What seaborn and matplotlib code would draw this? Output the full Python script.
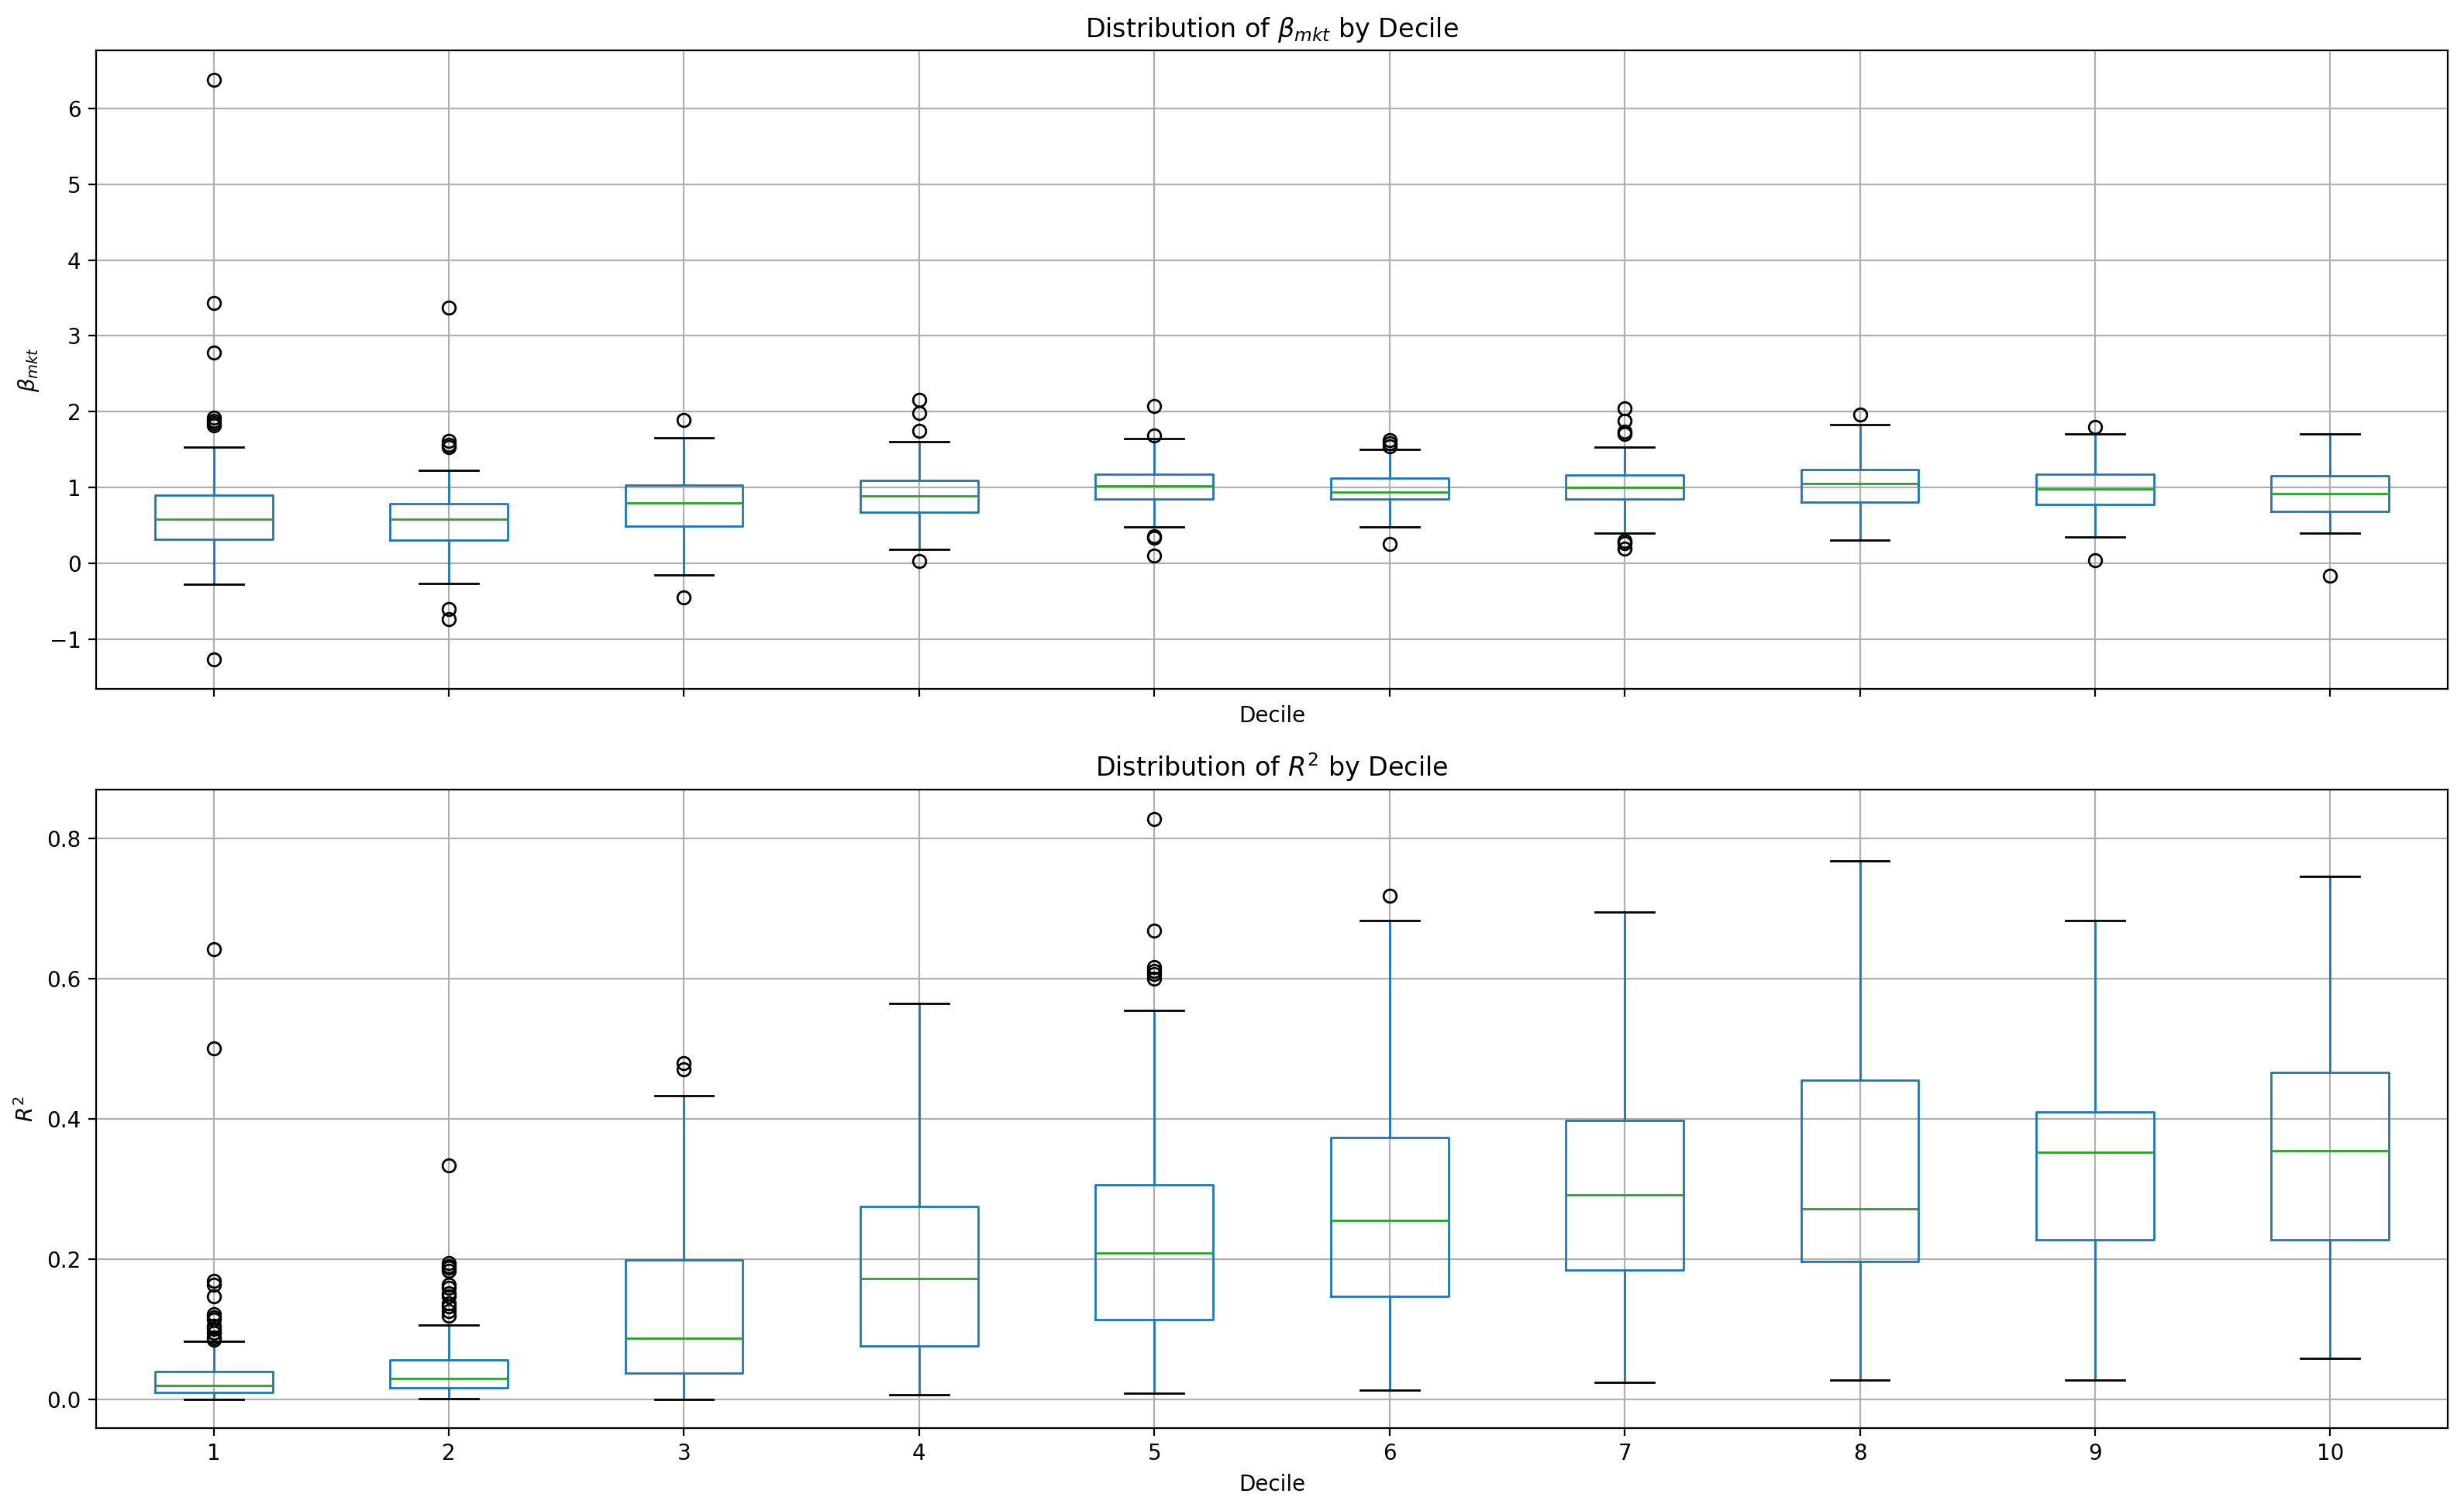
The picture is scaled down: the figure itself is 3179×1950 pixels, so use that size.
import matplotlib
matplotlib.use("Agg")
import matplotlib.pyplot as plt
import seaborn as sns

# plain matplotlib look, colours taken from seaborn's tab10 palette
sns.reset_defaults()
pal = sns.color_palette("tab10")
box_color = pal[0]
median_color = pal[2]

deciles = [1, 2, 3, 4, 5, 6, 7, 8, 9, 10]

# ---- beta_mkt per decile ----
beta_q1 = [0.319, 0.308, 0.487, 0.678, 0.843, 0.851, 0.851, 0.804, 0.776, 0.689]
beta_med = [0.577, 0.577, 0.798, 0.888, 1.022, 0.938, 1.000, 1.056, 0.977, 0.924]
beta_q3 = [0.894, 0.787, 1.028, 1.095, 1.174, 1.123, 1.162, 1.235, 1.174, 1.151]
beta_lo = [-0.280, -0.269, -0.157, 0.179, 0.476, 0.476, 0.403, 0.302, 0.342, 0.403]
beta_hi = [1.537, 1.224, 1.655, 1.605, 1.650, 1.498, 1.537, 1.832, 1.705, 1.705]
beta_fliers = [
    [6.38, 3.43, 2.78, 1.92, 1.88, 1.85, 1.82, -1.27],
    [3.375, 1.61, 1.565, 1.53, -0.605, -0.739],
    [1.89, -0.454],
    [2.157, 1.978, 1.745, 0.034],
    [2.07, 1.683, 0.358, 0.336, 0.106],
    [1.62, 1.58, 1.54, 0.252],
    [2.04, 1.88, 1.74, 1.71, 0.30, 0.27, 0.19],
    [1.966],
    [1.798, 0.045],
    [-0.168],
]

# ---- R^2 per decile ----
r2_q1 = [0.011, 0.0171, 0.0376, 0.0772, 0.1148, 0.1476, 0.185, 0.1974, 0.2282, 0.2282]
r2_med = [0.0205, 0.0307, 0.088, 0.173, 0.2097, 0.2555, 0.292, 0.2726, 0.3532, 0.3553]
r2_q3 = [0.0403, 0.0567, 0.1995, 0.276, 0.3067, 0.3737, 0.398, 0.4557, 0.4106, 0.4666]
r2_lo = [0.0, 0.0014, 0.0007, 0.0075, 0.0096, 0.0143, 0.0253, 0.028, 0.028, 0.0594]
r2_hi = [0.0833, 0.1066, 0.434, 0.565, 0.555, 0.683, 0.696, 0.768, 0.683, 0.746]
r2_fliers = [
    [0.642, 0.501, 0.170, 0.164, 0.148, 0.122, 0.118, 0.114, 0.106, 0.101, 0.095, 0.089, 0.086],
    [0.334, 0.195, 0.191, 0.188, 0.184, 0.164, 0.160, 0.152, 0.147, 0.138, 0.133, 0.126, 0.120],
    [0.480, 0.471],
    [],
    [0.828, 0.669, 0.617, 0.611, 0.607, 0.601],
    [0.719],
    [],
    [],
    [],
    [],
]


def make_stats(q1, med, q3, lo, hi, fliers):
    stats = []
    for i in range(len(q1)):
        stats.append({"q1": q1[i], "med": med[i], "q3": q3[i],
                      "whislo": lo[i], "whishi": hi[i], "fliers": fliers[i]})
    return stats


fig, (ax1, ax2) = plt.subplots(2, 1, figsize=(15.895, 9.75), dpi=200, sharex=True)
fig.subplots_adjust(left=0.039, right=0.9934, top=0.9667, bottom=0.0549, hspace=0.158)

styles = dict(
    boxprops=dict(color=box_color),
    whiskerprops=dict(color=box_color),
    medianprops=dict(color=median_color),
    capprops=dict(color="black"),
    flierprops=dict(marker="o", markerfacecolor="none", markeredgecolor="black"),
)

ax1.bxp(make_stats(beta_q1, beta_med, beta_q3, beta_lo, beta_hi, beta_fliers),
        positions=deciles, **styles)
ax1.set_title(r"Distribution of $\beta_{mkt}$ by Decile")
ax1.set_ylabel(r"$\beta_{mkt}$")
ax1.set_xlabel("Decile")
ax1.set_ylim(-1.655, 6.767)
ax1.grid(True)
ax1.xaxis.set_tick_params(labelbottom=False)

ax2.bxp(make_stats(r2_q1, r2_med, r2_q3, r2_lo, r2_hi, r2_fliers),
        positions=deciles, **styles)
ax2.set_title(r"Distribution of $R^2$ by Decile")
ax2.set_ylabel(r"$R^2$")
ax2.set_xlabel("Decile")
ax2.set_ylim(-0.0403, 0.870)
ax2.set_xticks(deciles)
ax2.set_xticklabels([str(d) for d in deciles])
ax2.set_xlim(0.5, 10.5)
ax2.grid(True)

fig.savefig("out.png", dpi=200)
